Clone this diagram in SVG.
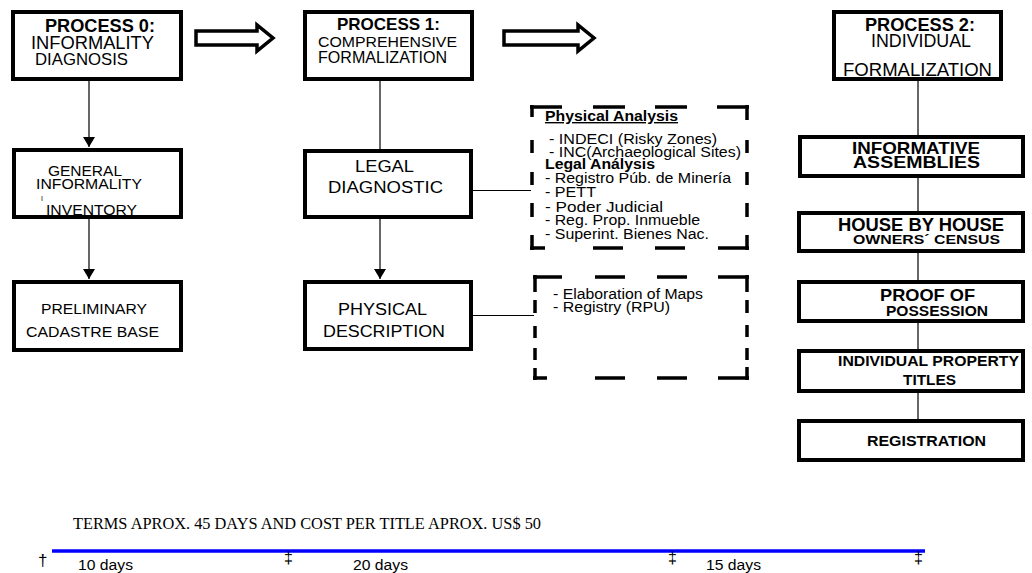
<svg xmlns="http://www.w3.org/2000/svg" width="1032" height="573" viewBox="0 0 1032 573">
<style>
text{font-family:"Liberation Sans",Arial,sans-serif;fill:#000}
.b{font-weight:bold}
.box{fill:#fff;stroke:#000;stroke-width:4}
.con{stroke:#000;stroke-width:1.2;fill:none}
.blk{fill:#fff;stroke:#000;stroke-width:3.5;stroke-linejoin:miter}
.dash{stroke:#000;stroke-width:3.5;fill:none;stroke-linecap:butt}
.serif{font-family:"Liberation Serif","Times New Roman",serif}
.lst{font-size:14px}
</style>
<defs>
<marker id="ah" viewBox="0 0 10 12" refX="10" refY="6" markerWidth="10" markerHeight="12" markerUnits="userSpaceOnUse" orient="auto">
<path d="M0,0 L10,6 L0,12 Z" fill="#000"/>
</marker>
</defs>
<rect width="1032" height="573" fill="#fff"/>

<g id="connectors">
<line class="con" x1="89" y1="81" x2="89" y2="147" marker-end="url(#ah)"/>
<line class="con" x1="89" y1="219" x2="89" y2="279" marker-end="url(#ah)"/>
<line class="con" x1="380" y1="81" x2="380" y2="149"/>
<line class="con" x1="380" y1="219" x2="380" y2="279" marker-end="url(#ah)"/>
<line class="con" x1="473" y1="190.5" x2="531" y2="190.5"/>
<line class="con" x1="473" y1="315.5" x2="534" y2="315.5"/>
<line class="con" x1="918" y1="81" x2="918" y2="135"/>
<line class="con" x1="918" y1="178" x2="918" y2="211"/>
<line class="con" x1="918" y1="253" x2="918" y2="280"/>
<line class="con" x1="918" y1="323" x2="918" y2="349"/>
<line class="con" x1="918" y1="393" x2="918" y2="419"/>
<polygon class="blk" points="196,31 257,31 257,25 273,38 257,51 257,45 196,45"/>
<polygon class="blk" points="504,31 578,31 578,25 594,38 578,51 578,45 504,45"/>
</g>

<g id="p0">
<rect class="box" x="13" y="12" width="168" height="67"/>
<text class="b" x="45" y="32" font-size="18" textLength="110" lengthAdjust="spacingAndGlyphs">PROCESS 0:</text>
<text x="31" y="49" font-size="18" textLength="123" lengthAdjust="spacingAndGlyphs">INFORMALITY</text>
<text x="35" y="65" font-size="17" textLength="93" lengthAdjust="spacingAndGlyphs">DIAGNOSIS</text>
</g>

<g id="p1">
<rect class="box" x="305" y="12" width="167" height="67"/>
<text class="b" x="337" y="30" font-size="17" textLength="103" lengthAdjust="spacingAndGlyphs">PROCESS 1:</text>
<text x="318" y="46.5" font-size="15.5" textLength="139" lengthAdjust="spacingAndGlyphs">COMPREHENSIVE</text>
<text x="318" y="63" font-size="16" textLength="129" lengthAdjust="spacingAndGlyphs">FORMALIZATION</text>
</g>

<g id="p2">
<rect class="box" x="834" y="12" width="167" height="67"/>
<text class="b" x="865" y="30.5" font-size="18" textLength="110" lengthAdjust="spacingAndGlyphs">PROCESS 2:</text>
<text x="871" y="46.5" font-size="18" textLength="100" lengthAdjust="spacingAndGlyphs">INDIVIDUAL</text>
<text x="843" y="76" font-size="18" textLength="149" lengthAdjust="spacingAndGlyphs">FORMALIZATION</text>
</g>

<g id="general">
<rect class="box" x="14" y="150" width="167" height="67"/>
<text x="48" y="176" font-size="15" textLength="74" lengthAdjust="spacingAndGlyphs">GENERAL</text>
<text x="36" y="189" font-size="15" textLength="106" lengthAdjust="spacingAndGlyphs">INFORMALITY</text>
<text x="41" y="201" font-size="7">I</text>
<text x="46" y="215" font-size="15.5" textLength="91" lengthAdjust="spacingAndGlyphs">INVENTORY</text>
</g>

<g id="preliminary">
<rect class="box" x="14" y="282" width="167" height="68"/>
<text x="41" y="314" font-size="15.5" textLength="106" lengthAdjust="spacingAndGlyphs">PRELIMINARY</text>
<text x="26" y="337" font-size="15.5" textLength="133" lengthAdjust="spacingAndGlyphs">CADASTRE BASE</text>
</g>

<g id="legal">
<rect class="box" x="305" y="151" width="166" height="66"/>
<text x="355" y="172" font-size="16" textLength="59" lengthAdjust="spacingAndGlyphs">LEGAL</text>
<text x="328" y="193" font-size="16" textLength="115" lengthAdjust="spacingAndGlyphs">DIAGNOSTIC</text>
</g>

<g id="physical">
<rect class="box" x="305" y="282" width="166" height="67"/>
<text x="338" y="315" font-size="16" textLength="89" lengthAdjust="spacingAndGlyphs">PHYSICAL</text>
<text x="323" y="337" font-size="16" textLength="122" lengthAdjust="spacingAndGlyphs">DESCRIPTION</text>
</g>

<g id="analysis">
<path class="dash" d="M530,107 H562 M593,107 H625 M655,107 H687 M717,107 H749 M530,248 H545 M593,248 H623 M655,248 H685 M718,248 H749 M532,105 V117 M532,140 V153 M532,172 V185 M532,203 V217 M532,235 V250 M747,105 V120 M747,140 V153 M747,172 V185 M747,203 V217 M747,235 V250"/>
<text class="b lst" x="545" y="121" textLength="133" lengthAdjust="spacingAndGlyphs" text-decoration="underline">Physical Analysis</text>
<text class="lst" x="549" y="144" textLength="168" lengthAdjust="spacingAndGlyphs">- INDECI (Risky Zones)</text>
<text class="lst" x="549" y="157" textLength="192" lengthAdjust="spacingAndGlyphs">- INC(Archaeological Sites)</text>
<text class="b lst" x="545" y="169" textLength="110" lengthAdjust="spacingAndGlyphs">Legal Análysis</text>
<text class="lst" x="545" y="183" textLength="186" lengthAdjust="spacingAndGlyphs">- Registro Púb. de Minería</text>
<text class="lst" x="545" y="197" textLength="51" lengthAdjust="spacingAndGlyphs">- PETT</text>
<text class="lst" x="545" y="212" textLength="118" lengthAdjust="spacingAndGlyphs">- Poder Judicial</text>
<text class="lst" x="545" y="225" textLength="155" lengthAdjust="spacingAndGlyphs">- Reg. Prop. Inmueble</text>
<text class="lst" x="545" y="239" textLength="164" lengthAdjust="spacingAndGlyphs">- Superint. Bienes Nac.</text>
</g>

<g id="maps">
<path class="dash" d="M533,277 H562 M595,277 H625 M657,277 H687 M718,277 H749 M533,378 H547 M595,378 H625 M657,378 H687 M718,378 H749 M535,275 V292 M535,300 V313 M535,326 V338 M535,348 V360 M535,368 V380 M747,275 V292 M747,300 V313 M747,325 V337 M747,348 V360 M747,367 V380"/>
<text class="lst" x="553" y="299" textLength="150" lengthAdjust="spacingAndGlyphs">- Elaboration of Maps</text>
<text class="lst" x="553" y="312" textLength="117" lengthAdjust="spacingAndGlyphs">- Registry (RPU)</text>
</g>

<g id="assemblies">
<rect class="box" x="800" y="137" width="223" height="39"/>
<text class="b" x="852" y="154" font-size="17" textLength="128" lengthAdjust="spacingAndGlyphs">INFORMATIVE</text>
<text class="b" x="853" y="168" font-size="17" textLength="127" lengthAdjust="spacingAndGlyphs">ASSEMBLIES</text>
</g>

<g id="census">
<rect class="box" x="799" y="213" width="224" height="38"/>
<text class="b" x="838" y="231" font-size="17.5" textLength="166" lengthAdjust="spacingAndGlyphs">HOUSE BY HOUSE</text>
<text class="b" x="853" y="244" font-size="13" textLength="147" lengthAdjust="spacingAndGlyphs">OWNERS´ CENSUS</text>
</g>

<g id="proof">
<rect class="box" x="799" y="282" width="224" height="39"/>
<text class="b" x="880" y="301" font-size="16.5" textLength="95" lengthAdjust="spacingAndGlyphs">PROOF OF</text>
<text class="b" x="886" y="316" font-size="14" textLength="102" lengthAdjust="spacingAndGlyphs">POSSESSION</text>
</g>

<g id="titles">
<rect class="box" x="799" y="351" width="224" height="40"/>
<text class="b" x="838" y="366" font-size="15.5" textLength="181" lengthAdjust="spacingAndGlyphs">INDIVIDUAL PROPERTY</text>
<text class="b" x="903" y="385" font-size="15.5" textLength="53" lengthAdjust="spacingAndGlyphs">TITLES</text>
</g>

<g id="registration">
<rect class="box" x="799" y="421" width="224" height="39"/>
<text class="b" x="867" y="446" font-size="15.5" textLength="119" lengthAdjust="spacingAndGlyphs">REGISTRATION</text>
</g>

<g id="timeline">
<text class="serif" x="73" y="529" font-size="16" textLength="468" lengthAdjust="spacingAndGlyphs">TERMS APROX. 45 DAYS AND COST PER TITLE APROX. US$ 50</text>
<line x1="52" y1="551" x2="925" y2="551" stroke="#0000ff" stroke-width="3.5"/>
<text x="38" y="566" font-size="17">†</text>
<text x="284" y="563" font-size="16">‡</text>
<text x="668" y="563" font-size="16">‡</text>
<text x="914" y="563" font-size="16">‡</text>
<text x="78" y="570" font-size="15.5" textLength="55" lengthAdjust="spacingAndGlyphs">10 days</text>
<text x="353" y="570" font-size="15.5" textLength="55" lengthAdjust="spacingAndGlyphs">20 days</text>
<text x="706" y="570" font-size="15.5" textLength="55" lengthAdjust="spacingAndGlyphs">15 days</text>
</g>
</svg>
